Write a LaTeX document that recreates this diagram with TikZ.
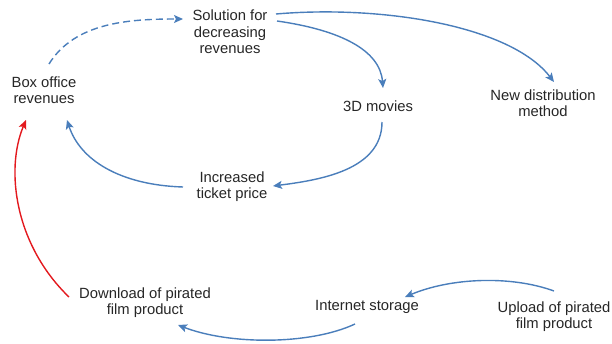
\documentclass[tikz,border=0pt]{standalone}
\usepackage{fontspec}
\setmainfont{Liberation Sans}
\usetikzlibrary{arrows.meta}
\definecolor{cblue}{HTML}{4A7EBB}
\definecolor{cred}{HTML}{E3191E}
\begin{document}
\begin{tikzpicture}[x=1pt,y=-1pt,
  lbl/.style={inner sep=0pt, align=center, text=black!85, font=\fontsize{14.8}{16.3}\selectfont},
  conn/.style={draw=cblue, line width=1.4pt, -{Stealth[length=9pt,width=8pt,inset=2pt]}},
  redconn/.style={conn, draw=cred}]
\useasboundingbox (0,0) rectangle (612,343);
\node[lbl] (box) at (44,90) {Box office\\revenues};
\node[lbl] (sol) at (230,32) {Solution for\\decreasing\\revenues};
\node[lbl] (d3) at (378,106) {3D movies};
\node[lbl] (nd) at (543,103) {New distribution\\method};
\node[lbl] (inc) at (232,187) {Increased\\ticket price};
\node[lbl] (dl) at (145,303) {Download of pirated\\film product};
\node[lbl] (is) at (367,307) {Internet storage};
\node[lbl] (up) at (554,317) {Upload of pirated\\film product};

\draw[conn, dashed, dash pattern=on 7pt off 4pt] ([shift={(5,-26)}]box.center) .. controls (75,22) and (130,19) .. ([shift={(-47,-13)}]sol.center);
\draw[conn] ([shift={(46,-18)}]sol.center) .. controls (380,5) and (510,25) .. ([shift={(11,-21)}]nd.center);
\draw[conn] ([shift={(47,-11)}]sol.center) .. controls (340,30) and (380,50) .. ([shift={(5,-18)}]d3.center);
\draw[conn] ([shift={(4,16)}]d3.center) .. controls (382,170) and (320,180) .. ([shift={(41,-1)}]inc.center);
\draw[conn] ([shift={(-49,0)}]inc.center) .. controls (120,185) and (80,160) .. ([shift={(23,30)}]box.center);
\draw[redconn] ([shift={(-76,-6)}]dl.center) .. controls (15,245) and (5,170) .. ([shift={(-18,30)}]box.center);
\draw[conn] ([shift={(0,-26)}]up.center) .. controls (510,275) and (450,278) .. ([shift={(38,-10)}]is.center);
\draw[conn] ([shift={(-12,17)}]is.center) .. controls (310,345) and (230,345) .. ([shift={(33,22)}]dl.center);
\end{tikzpicture}
\end{document}
